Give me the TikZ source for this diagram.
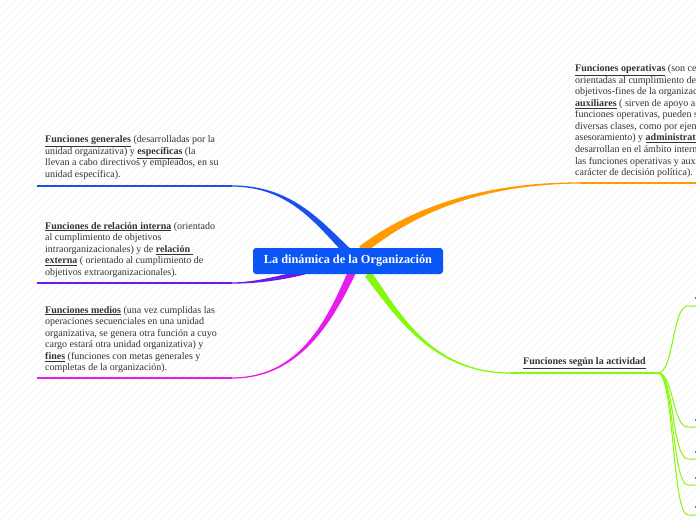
\documentclass[tikz,border=0pt]{standalone}
\usepackage{fontspec}
\setmainfont{Liberation Serif}
\definecolor{textgray}{HTML}{333333}
\definecolor{cblue}{HTML}{0A55F5}
\definecolor{bblue}{HTML}{1A50F0}
\definecolor{bpurple}{HTML}{6A1BE8}
\definecolor{bmagenta}{HTML}{E41CEE}
\definecolor{borange}{HTML}{FF9A00}
\definecolor{bgreen}{HTML}{86F80A}
\definecolor{stripec}{HTML}{F2F2F2}
\newcommand{\kw}[1]{\underline{\textbf{#1}}}
\begin{document}
\begin{tikzpicture}[x=1pt,y=-1pt,
  txt/.style={anchor=north west, inner sep=0pt, align=left, text=textgray,
    font=\fontsize{10}{11.55}\selectfont},
  central/.style={draw=none, fill=cblue, rounded corners=3pt, text=white,
    font=\fontsize{12.3}{14}\selectfont\bfseries, minimum width=190pt,
    minimum height=26pt, inner sep=0pt},
  hline/.style={line width=1.2pt},
  subline/.style={line width=1pt, bgreen},
  tick/.style={fill=textgray!70}]
\useasboundingbox (0,0) rectangle (696,520);
\clip (0,0) rectangle (696,520);
\fill[white] (0,0) rectangle (696,520);
\foreach \i in {0,8,...,1216} \draw[stripec, line width=0.6pt] (\i-520,520) -- (\i,0);

% branch end coordinates
\coordinate (bl) at (232,186);
\coordinate (blE) at (37,186);
\coordinate (pl) at (232,283);
\coordinate (plE) at (37,283);
\coordinate (ml) at (232,378);
\coordinate (mlE) at (37,378);
\coordinate (ol) at (580,183);
\coordinate (olE) at (696,183);
\coordinate (gl) at (510,373);
\coordinate (hub) at (658,373);

% tapered branches
\fill[bblue] (350.8,249.2) .. controls (320,220) and (291,185.3) .. (232,185.4)
  -- (232,186.6) .. controls (289,186.8) and (316,224) .. (345.2,254.8) -- cycle;
\draw[hline, bblue] (bl) -- (blE);

\fill[bpurple] (305,269.5) .. controls (280,275.5) and (255,282.4) .. (232,282.4)
  -- (232,283.6) .. controls (255,283.8) and (280,280.5) .. (305,274.5) -- cycle;
\draw[hline, bpurple] (pl) -- (plE);

\fill[bmagenta] (355.6,273.7) .. controls (332.5,321.2) and (300,378.6) .. (232,378.6)
  -- (232,377.4) .. controls (300,377.4) and (327.5,318.8) .. (348.4,270.3) -- cycle;
\draw[hline, bmagenta] (ml) -- (mlE);

\fill[borange] (364.8,253.5) .. controls (412,214.5) and (480,184) .. (580,183.6)
  -- (580,182.4) .. controls (480,182) and (408,209.5) .. (359.2,246.5) -- cycle;
\draw[hline, borange] (ol) -- (olE);

\fill[bgreen] (371.2,271.6) .. controls (397,308.5) and (430,372.4) .. (510,372.4)
  -- (510,373.6) .. controls (430,373.6) and (393,311.5) .. (364.8,276.4) -- cycle;
\draw[hline, bgreen] (gl) -- (hub);

% green sub-branches
\foreach \yy/\nm in {306/a,427/b,459/c,485/d,515/e} {
  \coordinate (s\nm) at (688,\yy);
  \draw[subline] (hub) .. controls (674,373) and (672,\yy) .. (s\nm) -- (696,\yy);
}
\fill[tick] (694.5,296.5) rectangle (696,298.5);
\fill[tick] (694.5,419) rectangle (696,421);
\fill[tick] (694.5,450.5) rectangle (696,452.5);
\fill[tick] (694.5,477) rectangle (696,479);
\fill[tick] (694.5,506) rectangle (696,508);

% central node
\node[central] (root) at (348,261) {La dinámica de la Organización};

% texts
\node[txt] (t1) at (45,135.5) {\kw{Funciones generales} (desarrolladas por la\\
unidad organizativa) y \kw{específicas} (la\\
llevan a cabo directivos y empleados, en su\\
unidad específica).};

\node[txt] (t2) at (45,222) {\kw{Funciones de relación interna} (orientado\\
al cumplimiento de objetivos\\
intraorganizacionales) y de \kw{relación\ }\\
\kw{externa} ( orientado al cumplimiento de\\
objetivos extraorganizacionales).};

\node[txt] (t3) at (45,306) {\kw{Funciones medios} (una vez cumplidas las\\
operaciones secuenciales en una unidad\\
organizativa, se genera otra función a cuyo\\
cargo estará otra unidad organizativa) y\\
\kw{fines} (funciones con metas generales y\\
completas de la organización).};

\node[txt] (t4) at (575,64.5) {\kw{Funciones operativas} (son centrales,\\
orientadas al cumplimiento de los\\
objetivos-fines de la organización),\\
\kw{auxiliares} ( sirven de apoyo a las\\
funciones operativas, pueden ser de\\
diversas clases, como por ejemplo\\
asesoramiento) y \kw{administrativas} (se\\
desarrollan en el ámbito interno, de\\
las funciones operativas y auxiliares, de\\
carácter de decisión política).};

\node[txt] (t5) at (523,357.5) {\kw{Funciones según la actividad}};
\end{tikzpicture}
\end{document}
